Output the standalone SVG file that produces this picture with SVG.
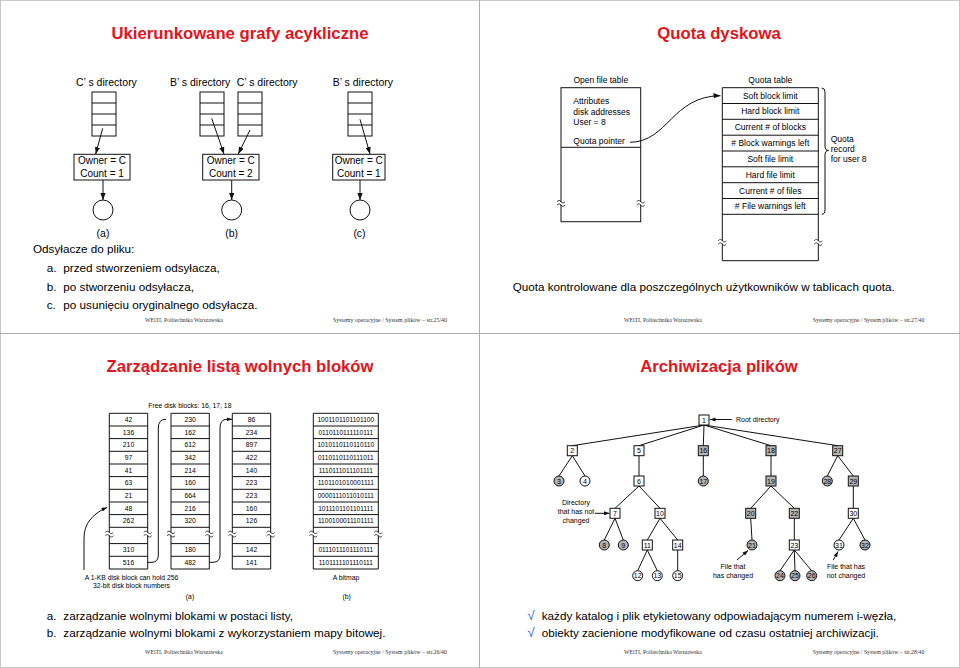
<svg xmlns="http://www.w3.org/2000/svg" xmlns:xlink="http://www.w3.org/1999/xlink" width="960" height="668" viewBox="0 0 960 668">
<style>
text{font-family:"Liberation Sans",Arial,sans-serif;fill:#000}
.title{font-size:16.7px;font-weight:bold;fill:#e2141c;text-anchor:middle}
.body{font-size:11.7px}
.lbl{font-size:10.5px}
.lblc{font-size:10.5px;text-anchor:middle}
.box{font-size:10px;text-anchor:middle}
.sm{font-size:8.5px}
.smc{font-size:8.5px;text-anchor:middle}
.xs{font-size:6.8px}
.xsc{font-size:6.8px;text-anchor:middle}
.bm{font-size:6.6px;text-anchor:middle}
.nd{font-size:7px;text-anchor:middle}
.nds{font-size:7px}
.foot{font-family:"Liberation Serif","Times New Roman",serif;font-size:6px;fill:#333}
.ln{fill:none;stroke:#111;stroke-width:1}
.shape{fill:#fff;stroke:#111;stroke-width:1}
.gray{fill:#b4b4b4;stroke:#111;stroke-width:1}
.chk{fill:#1f4fd6;font-size:13px}
</style>
<defs>
<marker id="ah" viewBox="0 0 8 6" refX="8" refY="3" markerWidth="7" markerHeight="5.5" markerUnits="userSpaceOnUse" orient="auto"><path d="M0,0 L8,3 L0,6 z" fill="#111"/></marker>
<marker id="ahs" viewBox="0 0 8 6" refX="8" refY="3" markerWidth="5.5" markerHeight="4.2" markerUnits="userSpaceOnUse" orient="auto"><path d="M0,0 L8,3 L0,6 z" fill="#111"/></marker>
<g id="brk"><rect x="-4.5" y="-1.3" width="9" height="2.6" fill="#fff"/><path d="M-4,-1.6 c1.3,-1.6 2.7,-1.6 4,0 s2.7,1.6 4,0 M-4,1.8 c1.3,-1.6 2.7,-1.6 4,0 s2.7,1.6 4,0" fill="none" stroke="#111" stroke-width="0.8"/></g>
</defs>
<rect x="0" y="0" width="960" height="668" fill="#fff"/>
<rect x="0.5" y="0.5" width="959" height="667" fill="none" stroke="#c8c8c8"/>
<line x1="479.5" y1="0" x2="479.5" y2="668" stroke="#b0b0b0"/>
<line x1="0" y1="333.5" x2="960" y2="333.5" stroke="#b0b0b0"/>

<!-- ========== Slide 1 ========== -->
<g id="slide1">
<text class="title" x="240" y="39">Ukierunkowane grafy acykliczne</text>
<g id="dirA"><text class="lbl" x="76" y="86">C’ s directory</text><rect class="shape" x="92" y="92" width="24" height="44"/><path class="ln" d="M92,103H116M92,114H116M92,125H116"/></g>
<g id="dirB1"><text class="lbl" x="170" y="86">B’ s directory</text><rect class="shape" x="200" y="92" width="24" height="44"/><path class="ln" d="M200,103H224M200,114H224M200,125H224"/></g>
<g id="dirB2"><text class="lbl" x="236.7" y="86">C’ s directory</text><rect class="shape" x="238" y="92" width="24" height="44"/><path class="ln" d="M238,103H262M238,114H262M238,125H262"/></g>
<g id="dirC"><text class="lbl" x="332.7" y="86">B’ s directory</text><rect class="shape" x="348" y="92" width="24" height="44"/><path class="ln" d="M348,103H372M348,114H372M348,125H372"/></g>
<g id="ownA"><rect class="shape" x="74" y="154.3" width="56" height="25.7"/><text class="box" x="102" y="163.6">Owner = C</text><text class="box" x="102" y="177">Count = 1</text></g>
<g id="ownB"><rect class="shape" x="202.7" y="154.3" width="56.3" height="25.7"/><text class="box" x="230.8" y="163.6">Owner = C</text><text class="box" x="230.8" y="177">Count = 2</text></g>
<g id="ownC"><rect class="shape" x="332.7" y="154.3" width="52.3" height="25.7"/><text class="box" x="358.8" y="163.6">Owner = C</text><text class="box" x="358.8" y="177">Count = 1</text></g>
<g id="fileA"><circle class="shape" cx="103" cy="210" r="10"/></g>
<g id="fileB"><circle class="shape" cx="231.7" cy="210" r="10"/></g>
<g id="fileC"><circle class="shape" cx="360" cy="210" r="10"/></g>
<g id="connectors1" class="ln" marker-end="url(#ah)">
<path d="M102.7,128.3 L95.7,154"/>
<path d="M211.7,118.3 L224,154"/>
<path d="M250,130 L238.3,154"/>
<path d="M360,119.3 L370,154"/>
<path d="M103,180 L103,200"/>
<path d="M231.7,180 L231.7,200"/>
<path d="M360,180 L360,200"/>
</g>
<text class="lblc" x="103" y="237">(a)</text>
<text class="lblc" x="231.7" y="237">(b)</text>
<text class="lblc" x="359.5" y="237">(c)</text>
<text class="body" x="33" y="253.3">Odsyłacze do pliku:</text>
<text class="body" x="46.7" y="272.3">a.</text><text class="body" x="63.3" y="272.3">przed stworzeniem odsyłacza,</text>
<text class="body" x="46.7" y="290.7">b.</text><text class="body" x="63.3" y="290.7">po stworzeniu odsyłacza,</text>
<text class="body" x="46.7" y="309">c.</text><text class="body" x="63.3" y="309">po usunięciu oryginalnego odsyłacza.</text>
<text class="foot" x="145" y="322" textLength="77.7" lengthAdjust="spacingAndGlyphs">WEiTI, Politechnika Warszawska</text>
<text class="foot" x="333" y="322" textLength="114" lengthAdjust="spacingAndGlyphs">Systemy operacyjne / System plików – str.25/40</text>
</g>

<!-- ========== Slide 2 ========== -->
<g id="slide2">
<text class="title" x="719" y="39">Quota dyskowa</text>
<g id="openFileTable">
<text class="smc" x="600.8" y="83">Open file table</text>
<rect class="shape" x="561" y="87.7" width="79.7" height="134"/>
<line class="ln" x1="561" y1="147.3" x2="640.7" y2="147.3"/>
<text class="sm" x="573.3" y="104">Attributes</text>
<text class="sm" x="573.3" y="114.7">disk addresses</text>
<text class="sm" x="573.3" y="124.7">User = 8</text>
<text class="sm" x="573.3" y="144">Quota pointer</text>
<use xlink:href="#brk" x="561" y="203.3"/>
<use xlink:href="#brk" x="640.7" y="203.3"/>
</g>
<g id="quotaTable">
<text class="smc" x="770.3" y="83">Quota table</text>
<path class="ln" d="M722.3,87.7 H818.3 V260.7 H722.3 Z M722.3,103.5H818.3 M722.3,119.3H818.3 M722.3,135.2H818.3 M722.3,151H818.3 M722.3,166.8H818.3 M722.3,182.7H818.3 M722.3,198.5H818.3 M722.3,214.3H818.3"/>
<text class="smc" x="770.3" y="98.6">Soft block limit</text>
<text class="smc" x="770.3" y="114.4">Hard block limit</text>
<text class="smc" x="770.3" y="130.3">Current # of blocks</text>
<text class="smc" x="770.3" y="146.1"># Block warnings left</text>
<text class="smc" x="770.3" y="161.9">Soft file limit</text>
<text class="smc" x="770.3" y="177.8">Hard file limit</text>
<text class="smc" x="770.3" y="193.6">Current # of files</text>
<text class="smc" x="770.3" y="209.4"># File warnings left</text>
<use xlink:href="#brk" x="722.3" y="242.3"/>
<use xlink:href="#brk" x="818.3" y="242.3"/>
</g>
<g id="quotaRecord">
<path class="ln" d="M821.7,88 Q825,88 825,92 L825,146 Q825,150.5 828.5,150.5 Q825,150.5 825,155 L825,210 Q825,214.3 821.7,214.3"/>
<text class="sm" x="830.7" y="142">Quota</text>
<text class="sm" x="830.7" y="152">record</text>
<text class="sm" x="830.7" y="162">for user 8</text>
</g>
<g id="connectors2"><path class="ln" marker-end="url(#ah)" d="M630,142.3 C668,142 672,96 720.5,95.7"/></g>
<text class="body" x="512.7" y="290.7">Quota kontrolowane dla poszczególnych użytkowników w tablicach quota.</text>
<text class="foot" x="624" y="322" textLength="77.7" lengthAdjust="spacingAndGlyphs">WEiTI, Politechnika Warszawska</text>
<text class="foot" x="812.7" y="322" textLength="111.6" lengthAdjust="spacingAndGlyphs">Systemy operacyjne / System plików – str.27/40</text>
</g>

<!-- ========== Slide 3 ========== -->
<g id="slide3">
<text class="title" x="240" y="372">Zarządzanie listą wolnych bloków</text>
<text class="xs" x="148.3" y="408">Free disk blocks: 16, 17, 18</text>
<g id="block1">
<path class="ln" d="M109.3,413.3V569 M147.7,413.3V569 M109.3,413.3H147.7 M109.3,426H147.7 M109.3,438.6H147.7 M109.3,451.3H147.7 M109.3,464H147.7 M109.3,476.6H147.7 M109.3,489.3H147.7 M109.3,502H147.7 M109.3,514.6H147.7 M109.3,527.3H147.7 M109.3,543.6H147.7 M109.3,556.3H147.7 M109.3,569H147.7"/>
<use xlink:href="#brk" x="109.3" y="534"/><use xlink:href="#brk" x="147.7" y="534"/>
<text class="xsc" x="128.5" y="422">42</text><text class="xsc" x="128.5" y="434.7">136</text><text class="xsc" x="128.5" y="447.3">210</text><text class="xsc" x="128.5" y="460">97</text><text class="xsc" x="128.5" y="472.7">41</text><text class="xsc" x="128.5" y="485.3">63</text><text class="xsc" x="128.5" y="498">21</text><text class="xsc" x="128.5" y="510.7">48</text><text class="xsc" x="128.5" y="523.3">262</text><text class="xsc" x="128.5" y="552.3">310</text><text class="xsc" x="128.5" y="565">516</text>
</g>
<g id="block2">
<path class="ln" d="M171,413.3V569 M209.3,413.3V569 M171,413.3H209.3 M171,426H209.3 M171,438.6H209.3 M171,451.3H209.3 M171,464H209.3 M171,476.6H209.3 M171,489.3H209.3 M171,502H209.3 M171,514.6H209.3 M171,527.3H209.3 M171,543.6H209.3 M171,556.3H209.3 M171,569H209.3"/>
<use xlink:href="#brk" x="171" y="534"/><use xlink:href="#brk" x="209.3" y="534"/>
<text class="xsc" x="190.2" y="422">230</text><text class="xsc" x="190.2" y="434.7">162</text><text class="xsc" x="190.2" y="447.3">612</text><text class="xsc" x="190.2" y="460">342</text><text class="xsc" x="190.2" y="472.7">214</text><text class="xsc" x="190.2" y="485.3">160</text><text class="xsc" x="190.2" y="498">664</text><text class="xsc" x="190.2" y="510.7">216</text><text class="xsc" x="190.2" y="523.3">320</text><text class="xsc" x="190.2" y="552.3">180</text><text class="xsc" x="190.2" y="565">482</text>
</g>
<g id="block3">
<path class="ln" d="M232.3,413.3V569 M270.7,413.3V569 M232.3,413.3H270.7 M232.3,426H270.7 M232.3,438.6H270.7 M232.3,451.3H270.7 M232.3,464H270.7 M232.3,476.6H270.7 M232.3,489.3H270.7 M232.3,502H270.7 M232.3,514.6H270.7 M232.3,527.3H270.7 M232.3,543.6H270.7 M232.3,556.3H270.7 M232.3,569H270.7"/>
<use xlink:href="#brk" x="232.3" y="534"/><use xlink:href="#brk" x="270.7" y="534"/>
<text class="xsc" x="251.5" y="422">86</text><text class="xsc" x="251.5" y="434.7">234</text><text class="xsc" x="251.5" y="447.3">897</text><text class="xsc" x="251.5" y="460">422</text><text class="xsc" x="251.5" y="472.7">140</text><text class="xsc" x="251.5" y="485.3">223</text><text class="xsc" x="251.5" y="498">223</text><text class="xsc" x="251.5" y="510.7">160</text><text class="xsc" x="251.5" y="523.3">126</text><text class="xsc" x="251.5" y="552.3">142</text><text class="xsc" x="251.5" y="565">141</text>
</g>
<g id="bitmap">
<path class="ln" d="M313.3,413.3V569 M378.3,413.3V569 M313.3,413.3H378.3 M313.3,426H378.3 M313.3,438.6H378.3 M313.3,451.3H378.3 M313.3,464H378.3 M313.3,476.6H378.3 M313.3,489.3H378.3 M313.3,502H378.3 M313.3,514.6H378.3 M313.3,527.3H378.3 M313.3,543.6H378.3 M313.3,556.3H378.3 M313.3,569H378.3"/>
<use xlink:href="#brk" x="313.3" y="534"/><use xlink:href="#brk" x="378.3" y="534"/>
<text class="bm" x="345.8" y="422">1001101101101100</text><text class="bm" x="345.8" y="434.7">0110110111110111</text><text class="bm" x="345.8" y="447.3">1010110110110110</text><text class="bm" x="345.8" y="460">0110110110111011</text><text class="bm" x="345.8" y="472.7">1110111011101111</text><text class="bm" x="345.8" y="485.3">1101101010001111</text><text class="bm" x="345.8" y="498">0000111011010111</text><text class="bm" x="345.8" y="510.7">1011101101101111</text><text class="bm" x="345.8" y="523.3">1100100011101111</text><text class="bm" x="345.8" y="552.3">0111011101110111</text><text class="bm" x="345.8" y="565">1101111101110111</text>
</g>
<g id="connectors3" class="ln">
<path d="M147.7,562.3 L152,562.3 Q158.3,562.3 158.3,555 L158.3,428 Q158.3,419.3 166,419.3"/>
<path marker-end="url(#ahs)" d="M209.3,562.3 L213,562.3 Q220,562.3 220,555 L220,428 Q220,419.3 227,419.3 L232,419.3"/>
<path marker-end="url(#ahs)" d="M84,570 L84,538 C84,524 92,514 107,507.5"/>
</g>
<text class="xsc" x="131.5" y="579.8">A 1-KB disk block can hold 256</text>
<text class="xsc" x="131.5" y="587.6">32-bit disk block numbers</text>
<text class="xsc" x="190" y="598.5">(a)</text>
<text class="xsc" x="346" y="579.8">A bitmap</text>
<text class="xsc" x="346.7" y="598.5">(b)</text>
<text class="body" x="46.7" y="620">a.</text><text class="body" x="63.3" y="620">zarządzanie wolnymi blokami w postaci listy,</text>
<text class="body" x="46.7" y="637">b.</text><text class="body" x="63.3" y="637">zarządzanie wolnymi blokami z wykorzystaniem mapy bitowej.</text>
<text class="foot" x="145" y="654" textLength="77.7" lengthAdjust="spacingAndGlyphs">WEiTI, Politechnika Warszawska</text>
<text class="foot" x="333" y="654" textLength="114" lengthAdjust="spacingAndGlyphs">Systemy operacyjne / System plików – str.26/40</text>
</g>

<!-- ========== Slide 4 ========== -->
<g id="slide4">
<text class="title" x="719" y="372">Archiwizacja plików</text>
<g id="connectors4" class="ln" stroke-width="1">
<path d="M704,425 L572.3,445.7 M704,425 L639,445.7 M704,425 L703.3,445.7 M704,425 L771,445.7 M704,425 L837.7,445.7"/>
<path d="M572.3,455.7 L559,476 M572.3,455.7 L585,476 M639,455.7 L639,476 M703.3,455.7 L703.3,476 M771,455.7 L771,476 M837.7,455.7 L827.3,476 M837.7,455.7 L853.3,476"/>
<path d="M639,486 L615,508.3 M639,486 L660,508.3 M771,486 L750.7,508.3 M771,486 L794.3,508.3 M853.3,486 L853.3,508.3"/>
<path d="M615,518.3 L604.3,540 M615,518.3 L623.3,540 M660,518.3 L647.3,540 M660,518.3 L677.7,540 M750.7,518.3 L752,540 M794.3,518.3 L794.3,540 M853.3,518.3 L839,540 M853.3,518.3 L865,540"/>
<path d="M647.3,550 L637.7,570.7 M647.3,550 L657.3,570.7 M677.7,550 L677.7,570.7 M794.3,550 L780,570.7 M794.3,550 L795,570.7 M794.3,550 L811.7,570.7"/>
<path marker-end="url(#ahs)" d="M731.7,419.5 L710,419.5"/>
<path marker-end="url(#ahs)" d="M595,513.3 L609.5,513.3"/>
<path marker-end="url(#ahs)" d="M737,560 L748,550.5"/>
<path marker-end="url(#ahs)" d="M833.3,560 L838,551.5"/>
</g>
<g id="n1"><rect class="shape" x="699" y="415" width="10" height="10"/><text class="nd" x="704" y="422.5">1</text></g>
<g id="n2"><rect class="shape" x="567.3" y="445.7" width="10" height="10"/><text class="nd" x="572.3" y="453.2">2</text></g>
<g id="n5"><rect class="shape" x="634" y="445.7" width="10" height="10"/><text class="nd" x="639" y="453.2">5</text></g>
<g id="n16"><rect class="gray" x="698.3" y="445.7" width="10" height="10"/><text class="nd" x="703.3" y="453.2">16</text></g>
<g id="n18"><rect class="gray" x="766" y="445.7" width="10" height="10"/><text class="nd" x="771" y="453.2">18</text></g>
<g id="n27"><rect class="gray" x="832.7" y="445.7" width="10" height="10"/><text class="nd" x="837.7" y="453.2">27</text></g>
<g id="n3"><circle class="gray" cx="559" cy="481" r="5"/><text class="nd" x="559" y="483.5">3</text></g>
<g id="n4"><circle class="shape" cx="585" cy="481" r="5"/><text class="nd" x="585" y="483.5">4</text></g>
<g id="n6"><rect class="shape" x="634" y="476" width="10" height="10"/><text class="nd" x="639" y="483.5">6</text></g>
<g id="n17"><circle class="gray" cx="703.3" cy="481" r="5"/><text class="nd" x="703.3" y="483.5">17</text></g>
<g id="n19"><rect class="gray" x="766" y="476" width="10" height="10"/><text class="nd" x="771" y="483.5">19</text></g>
<g id="n28"><circle class="gray" cx="827.3" cy="481" r="5"/><text class="nd" x="827.3" y="483.5">28</text></g>
<g id="n29"><rect class="gray" x="848.3" y="476" width="10" height="10"/><text class="nd" x="853.3" y="483.5">29</text></g>
<g id="n7"><rect class="shape" x="610" y="508.3" width="10" height="10"/><text class="nd" x="615" y="515.8">7</text></g>
<g id="n10"><rect class="shape" x="655" y="508.3" width="10" height="10"/><text class="nd" x="660" y="515.8">10</text></g>
<g id="n20"><rect class="gray" x="745.7" y="508.3" width="10" height="10"/><text class="nd" x="750.7" y="515.8">20</text></g>
<g id="n22"><rect class="gray" x="789.3" y="508.3" width="10" height="10"/><text class="nd" x="794.3" y="515.8">22</text></g>
<g id="n30"><rect class="shape" x="848.3" y="508.3" width="10" height="10"/><text class="nd" x="853.3" y="515.8">30</text></g>
<g id="n8"><circle class="gray" cx="604.3" cy="545" r="5"/><text class="nd" x="604.3" y="547.5">8</text></g>
<g id="n9"><circle class="gray" cx="623.3" cy="545" r="5"/><text class="nd" x="623.3" y="547.5">9</text></g>
<g id="n11"><rect class="shape" x="642.3" y="540" width="10" height="10"/><text class="nd" x="647.3" y="547.5">11</text></g>
<g id="n14"><rect class="shape" x="672.7" y="540" width="10" height="10"/><text class="nd" x="677.7" y="547.5">14</text></g>
<g id="n21"><circle class="gray" cx="752" cy="545" r="5"/><text class="nd" x="752" y="547.5">21</text></g>
<g id="n23"><rect class="shape" x="789.3" y="540" width="10" height="10"/><text class="nd" x="794.3" y="547.5">23</text></g>
<g id="n31"><circle class="shape" cx="839" cy="545" r="5"/><text class="nd" x="839" y="547.5">31</text></g>
<g id="n32"><circle class="gray" cx="865" cy="545" r="5"/><text class="nd" x="865" y="547.5">32</text></g>
<g id="n12"><circle class="shape" cx="637.7" cy="575.7" r="5"/><text class="nd" x="637.7" y="578.2">12</text></g>
<g id="n13"><circle class="shape" cx="657.3" cy="575.7" r="5"/><text class="nd" x="657.3" y="578.2">13</text></g>
<g id="n15"><circle class="shape" cx="677.7" cy="575.7" r="5"/><text class="nd" x="677.7" y="578.2">15</text></g>
<g id="n24"><circle class="gray" cx="780" cy="575.7" r="5"/><text class="nd" x="780" y="578.2">24</text></g>
<g id="n25"><circle class="gray" cx="795" cy="575.7" r="5"/><text class="nd" x="795" y="578.2">25</text></g>
<g id="n26"><circle class="gray" cx="811.7" cy="575.7" r="5"/><text class="nd" x="811.7" y="578.2">26</text></g>
<text class="nds" x="736" y="422">Root directory</text>
<text class="nd" x="576" y="504.5">Directory</text>
<text class="nd" x="576" y="513.5">that has not</text>
<text class="nd" x="576" y="522.5">changed</text>
<text class="nd" x="733" y="568.5">File that</text>
<text class="nd" x="733" y="577.5">has changed</text>
<text class="nd" x="846" y="568.5">File that has</text>
<text class="nd" x="846" y="578">not changed</text>
<text class="chk" x="527.5" y="620">√</text><text class="body" x="541.7" y="620">każdy katalog i plik etykietowany odpowiadającym numerem i-węzła,</text>
<text class="chk" x="527.5" y="637">√</text><text class="body" x="541.7" y="637">obiekty zacienione modyfikowane od czasu ostatniej archiwizacji.</text>
<text class="foot" x="624" y="654" textLength="77.7" lengthAdjust="spacingAndGlyphs">WEiTI, Politechnika Warszawska</text>
<text class="foot" x="812.7" y="654" textLength="111.6" lengthAdjust="spacingAndGlyphs">Systemy operacyjne / System plików – str.28/40</text>
</g>
</svg>
